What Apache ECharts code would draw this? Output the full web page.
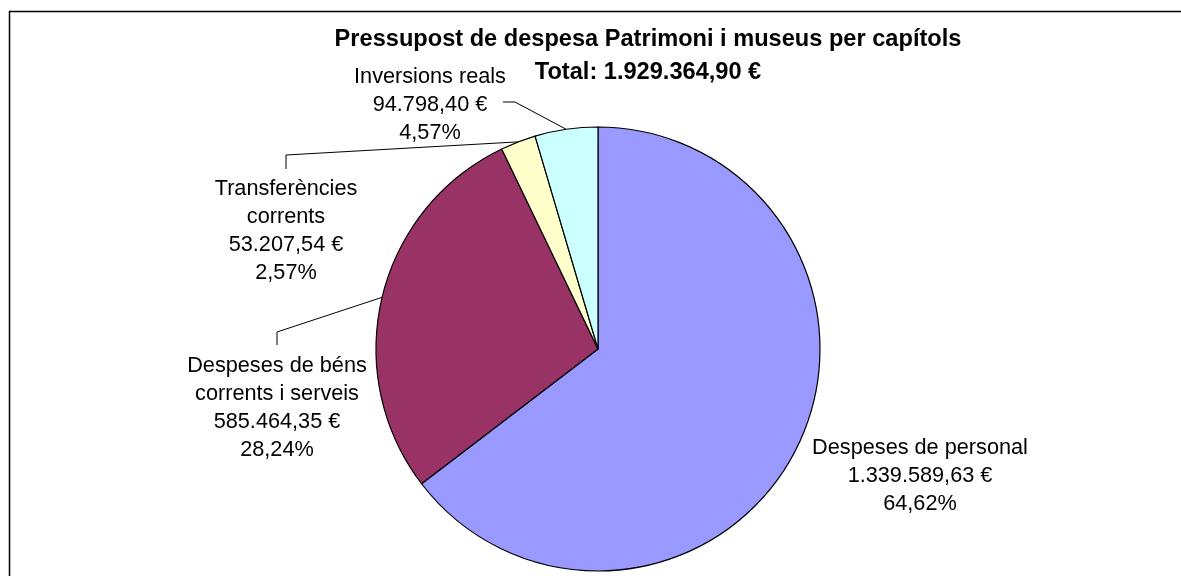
<!DOCTYPE html>
<html>
<head>
<meta charset="utf-8">
<script src="https://cdn.jsdelivr.net/npm/echarts@6/dist/echarts.min.js"></script>
<style>
  html, body { margin: 0; padding: 0; background: #fff; }
  #chart { width: 1181px; height: 576px; }
</style>
</head>
<body>
<div id="chart"></div>
<script>
// Budget chapters (clockwise from 12 o'clock)
const chapters = ['Despeses de personal', 'Despeses de béns corrents i serveis', 'Transferències corrents', 'Inversions reals'];
const labelNames = ['Despeses de personal', 'Despeses de béns\ncorrents i serveis', 'Transferències\ncorrents', 'Inversions reals'];
const amounts = [1339589.63, 585464.35, 53207.54, 94798.40];
const sliceColors = ['#9999FF', '#993366', '#FFFFCC', '#CCFFFF'];
const titleText = 'Pressupost de despesa Patrimoni i museus per capítols';
const totalText = 'Total: 1.929.364,90 €';

// Where each label block sits (centre) and the elbow of its leader line
const labelSpots = [
  { x: 920, y: 476, elbow: null },
  { x: 277, y: 408, elbow: [[277, 332], [277, 345]] },
  { x: 286, y: 231, elbow: [[286, 155], [286, 169]] },
  { x: 430, y: 105, elbow: [[515, 102], [503, 102]] }
];

const FONT = '"Liberation Sans", Arial, Helvetica, sans-serif';

function euro(v) {
  const parts = v.toFixed(2).split('.');
  return parts[0].replace(/\B(?=(\d{3})+(?!\d))/g, '.') + ',' + parts[1] + ' €';
}

const chart = echarts.init(document.getElementById('chart'), null, { renderer: 'canvas' });

chart.setOption({
  animation: false,
  backgroundColor: '#fff',
  title: [
    {
      text: titleText, left: 643, top: 22, textAlign: 'center',
      textStyle: { fontFamily: FONT, fontSize: 23.6, fontWeight: 'bold', color: '#000' }
    },
    {
      text: totalText, left: 643, top: 55, textAlign: 'center',
      textStyle: { fontFamily: FONT, fontSize: 23.6, fontWeight: 'bold', color: '#000' }
    }
  ],
  graphic: [{
    type: 'rect', silent: true,
    shape: { x: 9.5, y: 11.5, width: 1200, height: 600 },
    style: { fill: 'none', stroke: '#000', lineWidth: 1.5 }
  }],
  series: [{
    type: 'pie',
    center: [598, 349],
    radius: 222,
    startAngle: 90,
    clockwise: true,
    avoidLabelOverlap: false,
    emphasis: { disabled: true },
    itemStyle: { borderColor: '#000', borderWidth: 1.2 },
    label: {
      show: true,
      position: 'outside',
      fontFamily: FONT,
      fontSize: 21.7,
      lineHeight: 28,
      color: '#000',
      align: 'center',
      formatter: function (p) {
        return labelNames[p.dataIndex] + '\n' + euro(p.value) + '\n' + p.percent.toFixed(2).replace('.', ',') + '%';
      }
    },
    labelLine: { show: true, lineStyle: { color: '#000', width: 1 } },
    labelLayout: function (p) {
      const s = labelSpots[p.dataIndex];
      const out = { x: s.x, y: s.y, align: 'center', verticalAlign: 'middle', hideOverlap: false };
      if (s.elbow && p.labelLinePoints) {
        out.labelLinePoints = [p.labelLinePoints[0]].concat(s.elbow);
      }
      return out;
    },
    data: chapters.map(function (name, i) {
      return {
        name: name,
        value: amounts[i],
        itemStyle: { color: sliceColors[i] },
        labelLine: { show: labelSpots[i].elbow !== null }
      };
    })
  }]
});
</script>
</body>
</html>
